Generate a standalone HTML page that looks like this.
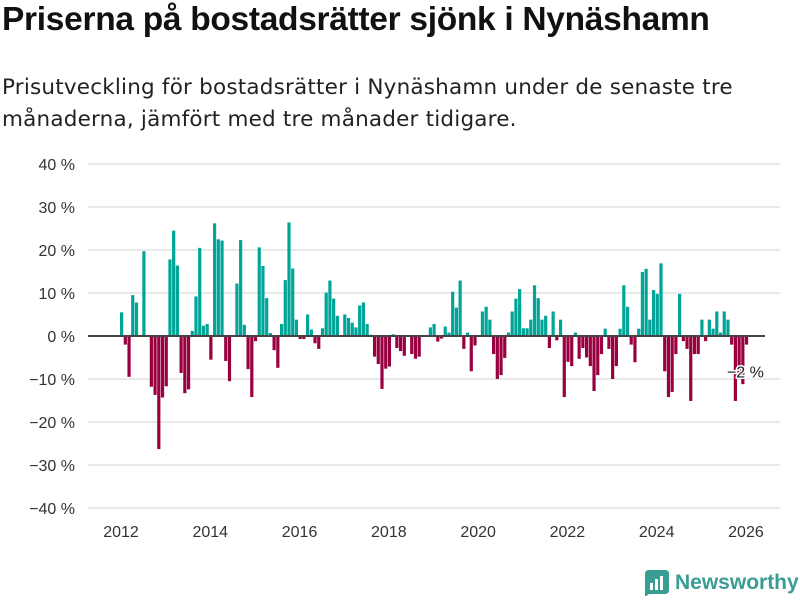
<!DOCTYPE html>
<html><head><meta charset="utf-8"><style>
body{margin:0;background:#fff;font-family:"Liberation Sans",sans-serif;}
#wrap{position:relative;width:800px;height:600px;overflow:hidden;}
h1{position:absolute;left:2px;top:1px;margin:0;font-size:33.5px;font-weight:bold;color:#111;letter-spacing:-0.3px;}
p.sub{position:absolute;left:2px;top:72px;margin:0;font-family:"DejaVu Sans",sans-serif;font-size:21.5px;line-height:32px;color:#222;width:745px;letter-spacing:0.2px;}
.logo{position:absolute;left:645px;top:570px;display:flex;align-items:center;}
.logo span{font-size:21px;font-weight:bold;color:#3a9d94;margin-left:6px;}
</style></head><body><div id="wrap">
<h1>Priserna på bostadsrätter sjönk i Nynäshamn</h1>
<p class="sub">Prisutveckling för bostadsrätter i Nynäshamn under de senaste tre månaderna, jämfört med tre månader tidigare.</p>
<svg id="chart" width="800" height="600" style="position:absolute;left:0;top:0"></svg>
<div class="logo"><svg width="24" height="26"><path d="M0 4 Q0 0 4 0 H20 Q24 0 24 4 V20 Q24 24 20 24 H4 L0 27 Z" fill="#3a9d94"/><rect x="5" y="13" width="3" height="7" fill="#fff"/><rect x="10" y="9" width="3" height="11" fill="#fff"/><rect x="15" y="6" width="3" height="14" fill="#fff"/></svg><span>Newsworthy</span></div>
</div>
<script>
const values=[5.5,-2,-9.5,9.5,7.8,0,19.7,0,-11.8,-13.7,-26.3,-14.3,-11.7,17.8,24.5,16.4,-8.6,-13.3,-12.4,1.2,9.2,20.5,2.4,2.8,-5.5,26.2,22.5,22.2,-5.8,-10.5,0,12.2,22.3,2.6,-7.7,-14.2,-1.2,20.6,16.3,8.8,0.7,-3.3,-7.4,2.8,13,26.4,15.7,3.8,-0.7,-0.7,5,1.5,-1.7,-3,1.8,10.1,12.9,8.7,4.7,0,5,4.2,3.1,2,7.1,7.8,2.8,0.3,-4.8,-6.5,-12.3,-7.6,-7.1,0.4,-2.8,-3.5,-4.6,0,-4.2,-5.3,-4.8,0,0,2,2.8,-1.3,-0.6,2.2,0.8,10.3,6.6,12.9,-3,0.8,-8.2,-2.2,0,5.7,6.8,3.8,-4.2,-10,-9.1,-5.1,0.8,5.7,8.7,10.9,1.8,1.8,3.8,11.8,8.8,3.8,4.7,-2.8,5.7,-1,3.8,-14.2,-6,-7,0.8,-5.3,-2.8,-5,-7,-12.8,-9.1,-4.2,1.7,-3,-10,-7,1.7,11.8,6.8,-2,-6.1,1.7,14.9,15.6,3.8,10.7,9.8,16.9,-8.2,-14.2,-13,-4.2,9.8,-1.2,-3,-15.1,-4.2,-4.2,3.8,-1.2,3.8,1.7,5.7,0.8,5.7,3.8,-2,-15.1,-10,-11.2,-2];
const startYear=2012;
const yTicks=[40,30,20,10,0,-10,-20,-30,-40];
const yTickLabels=["40 %","30 %","20 %","10 %","0 %","−10 %","−20 %","−30 %","−40 %"];
const xYears=[2012,2014,2016,2018,2020,2022,2024,2026];
const lastLabel="−2 %";
const NS="http://www.w3.org/2000/svg";
const svg=document.getElementById('chart');
const step=3.72, x0=120;
const y=v=>336-v*4.3;
const xm=i=>x0+i*step;
const xYear=yr=>x0+(yr-startYear)*12*step+1;
function mk(t,a){const e=document.createElementNS(NS,t);for(const k in a)e.setAttribute(k,a[k]);svg.appendChild(e);return e;}
yTicks.forEach((t,i)=>{
 if(t!==0){const g=mk('line',{x1:88,x2:780,y1:y(t),y2:y(t),stroke:'#e2e2e2','stroke-width':1.5});
 
 }
 const l=mk('text',{x:75,y:y(t)+6,'text-anchor':'end','font-size':16,fill:'#333','font-family':'Liberation Sans,sans-serif'});
 l.textContent=yTickLabels[i];
 
 
});
xYears.forEach(yr=>{
 const l=mk('text',{x:xYear(yr),y:537,'text-anchor':'middle','font-size':16,fill:'#333','font-family':'Liberation Sans,sans-serif'});
 l.textContent=yr;
 
 
});
values.forEach((v,i)=>{
 if(v===0)return;
 const b=mk('rect',{x:xm(i),width:3.2,y:Math.min(y(v),y(0)),height:Math.abs(y(v)-y(0)),fill:v>0?'#00a598':'#99003f'});
 
 
});
const z=mk('line',{x1:88,x2:765,y1:y(0),y2:y(0),stroke:'#444','stroke-width':2});


const li=values.length-1;
const ann=mk('text',{x:xm(li)-18,y:y(values[li])+33,'font-size':16,fill:'#222',stroke:'#fff','stroke-width':3,'paint-order':'stroke','font-family':'Liberation Sans,sans-serif'});
ann.textContent=lastLabel;


</script></body></html>
